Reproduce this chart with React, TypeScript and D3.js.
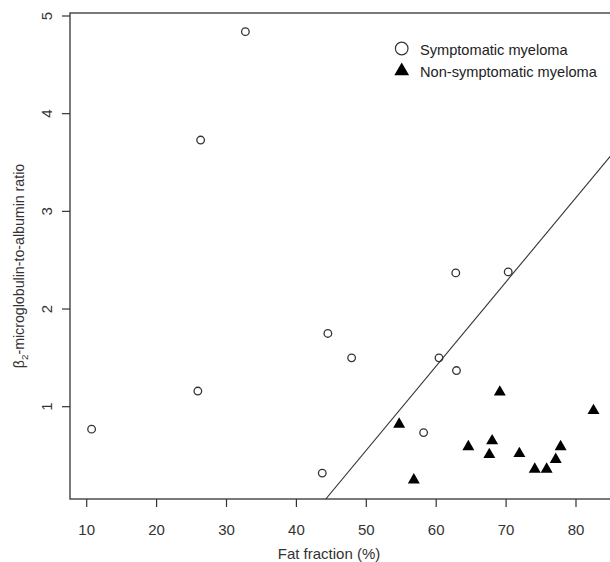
import React from "react";
import * as d3 from "d3";

// symptomatic myeloma (open circles)
const sympFat = [10.7, 25.9, 26.3, 32.7, 43.7, 44.5, 47.9, 58.2, 60.4, 62.9, 62.8, 70.3];
const sympRatio = [0.77, 1.16, 3.73, 4.84, 0.32, 1.75, 1.5, 0.735, 1.5, 1.37, 2.37, 2.38];

// non-symptomatic myeloma (filled triangles)
const nonFat = [54.7, 56.8, 64.6, 67.6, 68.0, 69.1, 71.9, 74.1, 75.8, 77.1, 77.8, 82.5];
const nonRatio = [0.82, 0.25, 0.59, 0.51, 0.65, 1.15, 0.52, 0.36, 0.36, 0.46, 0.59, 0.96];

const xTicks = [10, 20, 30, 40, 50, 60, 70, 80];
const yTicks = [1, 2, 3, 4, 5];

// discriminant line: ratio = a + b * fat
const lineA = -3.755;
const lineB = 0.0862;

const legendLabels = ["Symptomatic myeloma", "Non-symptomatic myeloma"];

const W = 610;
const H = 562;
const ink = "#333";
const font = "'Liberation Sans', Arial, sans-serif";

export default function App() {
  const x = d3.scaleLinear().domain([10, 80]).range([86.7, 576]);
  const y = d3.scaleLinear().domain([1, 5]).range([406.7, 16]);

  const left = 70;
  const top = 13;
  const bottom = 499;
  const right = 640;

  const xMin = x.invert(left);
  const xMax = x.invert(right);
  const yMin = y.invert(bottom);

  // clip line to the bottom of the plot
  const x0 = Math.max(xMin, (yMin - lineA) / lineB);
  const linePath = d3.line<number>()
    .x(d => x(d))
    .y(d => y(lineA + lineB * d))([x0, xMax]);

  const tri = d3.symbol().type(d3.symbolTriangle).size(62)();
  const legTri = d3.symbol().type(d3.symbolTriangle).size(95)();

  return (
    <svg width={W} height={H} style={{ position: "absolute", left: 0, top: 0, background: "#fff" }}
      fontFamily={font}>
      <defs>
        <clipPath id="plot">
          <rect x={left} y={top} width={right - left} height={bottom - top} />
        </clipPath>
      </defs>

      {/* box */}
      <rect x={left} y={top} width={right - left} height={bottom - top} fill="none" stroke={ink} strokeWidth={1.3} />

      {/* x axis */}
      <g>
        {xTicks.map(t => (
          <g key={t} transform={`translate(${x(t)},${bottom})`}>
            <line y2={8} stroke={ink} strokeWidth={1.2} />
            <text y={36} textAnchor="middle" fontSize={15} fill={ink}>{t}</text>
          </g>
        ))}
        <text x={329} y={559} textAnchor="middle" fontSize={15} fill={ink}>Fat fraction (%)</text>
      </g>

      {/* y axis */}
      <g>
        {yTicks.map(t => (
          <g key={t} transform={`translate(${left},${y(t)})`}>
            <line x2={-8} stroke={ink} strokeWidth={1.2} />
            <text transform="translate(-18,0) rotate(-90)" textAnchor="middle" fontSize={15} fill={ink}>{t}</text>
          </g>
        ))}
        <text transform="translate(24,266) rotate(-90)" textAnchor="middle" fontSize={14.2} fill={ink}>
          β<tspan fontSize={9.8} dy={4}>2</tspan><tspan dy={-4}>-microglobulin-to-albumin ratio</tspan>
        </text>
      </g>

      {/* line */}
      <path d={linePath ?? ""} fill="none" stroke={ink} strokeWidth={1.1} clipPath="url(#plot)" />

      {/* points */}
      {sympFat.map((f, i) => (
        <circle key={"s" + i} cx={x(f)} cy={y(sympRatio[i])} r={3.8} fill="none" stroke={ink} strokeWidth={1.3} />
      ))}
      {nonFat.map((f, i) => (
        <path key={"n" + i} d={tri ?? ""} transform={`translate(${x(f)},${y(nonRatio[i])})`} fill="#000" />
      ))}

      {/* legend */}
      <g fontSize={14.6} fill="#222">
        <circle cx={401.7} cy={48.5} r={6.3} fill="none" stroke={ink} strokeWidth={1.2} />
        <text x={420} y={54.5}>{legendLabels[0]}</text>
        <path d={legTri ?? ""} transform="translate(401.7,71)" fill="#000" />
        <text x={420} y={77}>{legendLabels[1]}</text>
      </g>
    </svg>
  );
}
